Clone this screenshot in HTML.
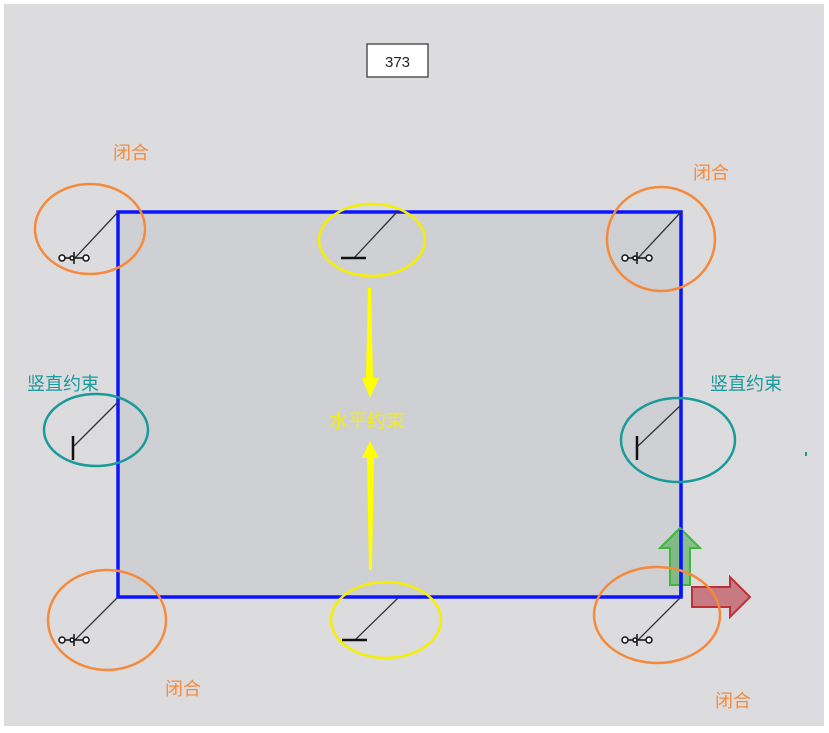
<!DOCTYPE html>
<html><head><meta charset="utf-8"><style>
html,body{margin:0;padding:0;background:#fff;}
svg{display:block;}
text{font-family:"Liberation Sans","Noto Sans CJK SC",sans-serif;}
</style></head><body>
<svg width="829" height="733" viewBox="0 0 829 733">
<rect x="0" y="0" width="829" height="733" fill="#fff"/>
<rect x="4" y="4" width="820" height="722" fill="#dcdcde"/>
<rect x="367" y="44" width="61" height="33" fill="#fff" stroke="#555" stroke-width="1.5"/>
<text x="397.5" y="67" font-size="15" text-anchor="middle" fill="#222">373</text>
<rect x="118" y="212" width="563" height="385" fill="#cfd0d4" stroke="#0a14ff" stroke-width="3.5"/>
<g stroke="#333" stroke-width="1.3" fill="none">
<line x1="118" y1="212" x2="75" y2="258"/>
<line x1="681" y1="212" x2="638" y2="258"/>
<line x1="118" y1="597" x2="75" y2="640"/>
<line x1="681" y1="597" x2="638" y2="640"/>
<line x1="397" y1="212" x2="354" y2="258"/>
<line x1="398" y1="598" x2="355" y2="640"/>
<line x1="118" y1="402" x2="74" y2="446"/>
<line x1="681" y1="405" x2="638" y2="446"/>
</g>
<g stroke="#111" stroke-width="2.5">
<line x1="341" y1="258" x2="366" y2="258"/>
<line x1="342" y1="640" x2="367" y2="640"/>
<line x1="73" y1="436" x2="73" y2="460"/>
<line x1="637" y1="436" x2="637" y2="460"/>
</g>
<g fill="#fff" stroke="#111" stroke-width="1.5">
<g transform="translate(74,258)"><line x1="-11" y1="0" x2="11" y2="0"/><line x1="0" y1="-6" x2="0" y2="6"/><circle cx="-12" cy="0" r="3"/><circle cx="12" cy="0" r="3"/><circle cx="-2" cy="0" r="2"/></g>
<g transform="translate(637,258)"><line x1="-11" y1="0" x2="11" y2="0"/><line x1="0" y1="-6" x2="0" y2="6"/><circle cx="-12" cy="0" r="3"/><circle cx="12" cy="0" r="3"/><circle cx="-2" cy="0" r="2"/></g>
<g transform="translate(74,640)"><line x1="-11" y1="0" x2="11" y2="0"/><line x1="0" y1="-6" x2="0" y2="6"/><circle cx="-12" cy="0" r="3"/><circle cx="12" cy="0" r="3"/><circle cx="-2" cy="0" r="2"/></g>
<g transform="translate(637,640)"><line x1="-11" y1="0" x2="11" y2="0"/><line x1="0" y1="-6" x2="0" y2="6"/><circle cx="-12" cy="0" r="3"/><circle cx="12" cy="0" r="3"/><circle cx="-2" cy="0" r="2"/></g>
</g>
<path d="M670 585 L670 548 L660 548 L680 528 L700 548 L690 548 L690 585 Z" fill="rgba(80,170,80,0.6)" stroke="#3cb83c" stroke-width="2"/>
<path d="M692 587 L730 587 L730 577 L750 597 L730 617 L730 607 L692 607 Z" fill="rgba(190,80,90,0.7)" stroke="#c0303a" stroke-width="2"/>
<line x1="681" y1="530" x2="681" y2="597" stroke="#0a14ff" stroke-width="3.5"/>
<g fill="none" stroke-width="2.5">
<ellipse cx="90" cy="229" rx="55" ry="45" stroke="#f58a3c"/>
<ellipse cx="661" cy="239" rx="54" ry="52" stroke="#f58a3c"/>
<ellipse cx="107" cy="620" rx="59" ry="50" stroke="#f58a3c"/>
<ellipse cx="657" cy="615" rx="63" ry="48" stroke="#f58a3c"/>
<ellipse cx="372" cy="240" rx="53" ry="36" stroke="#f5f000"/>
<ellipse cx="386" cy="620" rx="55" ry="38" stroke="#f5f000"/>
<ellipse cx="96" cy="430" rx="52" ry="36" stroke="#1a9a9a"/>
<ellipse cx="678" cy="440" rx="57" ry="42" stroke="#1a9a9a"/>
</g>
<g fill="#ffff00">
<path d="M368 288 L371 288 L373 378 L379 378 L370 398 L362 378 L366 378 Z"/>
<path d="M369 570 L372 570 L374 458 L379 458 L370 441 L362 458 L367 458 Z"/>
</g>
<g font-size="18">
<text x="113" y="159" fill="#f58a3c">闭合</text>
<text x="693" y="179" fill="#f58a3c">闭合</text>
<text x="165" y="695" fill="#f58a3c">闭合</text>
<text x="715" y="707" fill="#f58a3c">闭合</text>
<text x="27" y="390" fill="#1a9a9a">竖直约束</text>
<text x="710" y="390" fill="#1a9a9a">竖直约束</text>
<text x="329" y="427" fill="#f5f000" font-size="19">水平约束</text>
</g>
<rect x="805" y="452" width="2" height="4" fill="#1a9a9a"/>
</svg>
</body></html>
